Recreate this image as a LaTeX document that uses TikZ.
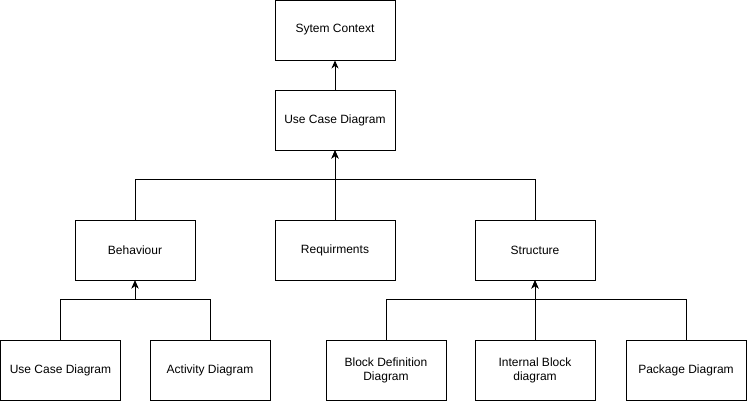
\documentclass[tikz,border=0pt]{standalone}
\usepackage{fontspec}
\setmainfont{Liberation Sans}
\usetikzlibrary{arrows.meta}
\tikzset{
  box/.style={draw=black,line width=0.9pt,minimum width=120pt,minimum height=60pt,
    inner sep=2pt,align=center,font=\fontsize{12}{14}\selectfont},
  arr/.style={-{Stealth[length=8pt,width=7pt,inset=2.5pt]},black,line width=0.9pt},
}
\begin{document}
\begin{tikzpicture}[x=1pt,y=1pt]
  \useasboundingbox (0,0) rectangle (747,402);
  \node[box] (ctx) at (335,372) {Sytem Context};
  \node[box] (uc)  at (335,282) {Use Case Diagram};
  \node[box] (beh) at (135,152) {Behaviour};
  \node[box] (req) at (335,152) {Requirments};
  \node[box] (str) at (535,152) {Structure};
  \node[box] (ucd) at (60.5,32) {Use Case Diagram};
  \node[box] (act) at (210,32) {Activity Diagram};
  \node[box] (bdd) at (386,32) {Block Definition\\Diagram};
  \node[box] (ibd) at (535,32) {Internal Block\\diagram};
  \node[box] (pkg) at (686,32) {Package Diagram};
  % upper levels
  \draw[arr] (uc.north) -- (ctx.south);
  \draw[arr] (req.north) -- (uc.south);
  \draw[arr] (beh.north) -- ++(0,40) -| (uc.south);
  \draw[arr] (str.north) -- ++(0,40) -| (uc.south);
  % behaviour
  \draw[arr] (ucd.north) -- ++(0,40) -| (beh.south);
  \draw[arr] (act.north) -- ++(0,40) -| (beh.south);
  % structure
  \draw[arr] (ibd.north) -- (str.south);
  \draw[arr] (bdd.north) -- ++(0,40) -| (str.south);
  \draw[arr] (pkg.north) -- ++(0,40) -| (str.south);
\end{tikzpicture}
\end{document}
